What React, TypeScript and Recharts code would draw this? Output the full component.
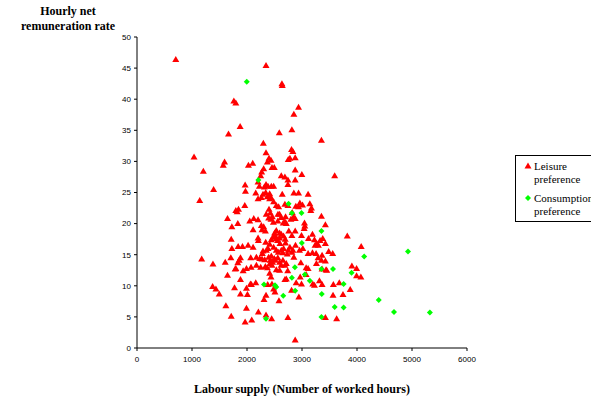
import { ScatterChart, Scatter, XAxis, YAxis } from 'recharts';

const xTicks = [0, 1000, 2000, 3000, 4000, 5000, 6000];
const yTicks = [0, 5, 10, 15, 20, 25, 30, 35, 40, 45, 50];

// Leisure preference (red triangles): worked hours / hourly rate
const leisureHours = [
  705, 2346, 2635, 2641, 1761, 1797, 2937, 2852, 1875, 2816, 1664, 2587, 3353, 2297, 2810, 2834,
  2876, 2346, 1037, 2400, 2436, 2370, 2750, 2780, 1592, 1568, 2026, 2104, 2303, 2267, 2249, 2454,
  2496, 2876, 1206, 3594, 2997, 2623, 2689, 2744, 2744, 2876, 2201, 2225, 1966, 1972, 2346, 2316,
  2382, 2442, 2484, 1393, 2340, 2412, 2291, 2852, 2937, 3111, 2159, 2261, 2201, 2641, 1140, 2370,
  2412, 2436, 2484, 2533, 2575, 3142, 3172, 3160, 2961, 3009, 2937, 2888, 1960, 2689, 2744, 1845,
  1821, 1797, 2424, 2563, 2593, 2822, 2846, 2798, 2876, 1646, 2123, 2050, 2201, 3353, 2394, 2436,
  2460, 2701, 2689, 1725, 1833, 3045, 3051, 3039, 3425, 2261, 2303, 2273, 2334, 2111, 2659, 2714,
  2533, 2502, 2593, 2876, 2816, 3823, 1713, 1725, 2201, 2207, 2442, 2472, 2508, 2533, 2557, 2593,
  2623, 2665, 2695, 2340, 2412, 2382, 2352, 3118, 3190, 3226, 3268, 3298, 3238, 3329, 3377, 3425,
  2991, 2882, 2955, 1839, 1918, 2020, 2111, 2780, 2834, 2750, 2665, 2623, 2653, 4076, 2291, 2279,
  2484, 2533, 2569, 3015, 3111, 3190, 3256, 3365, 3485, 3558, 2732, 2816, 2852, 1176, 1881, 1857,
  2068, 2171, 2231, 2273, 2322, 2394, 2442, 2496, 2424, 2514, 2466, 1381, 1604, 1706, 1833, 1797,
  2074, 2171, 2249, 2334, 2418, 2454, 2370, 2593, 2653, 2714, 2689, 2979, 3262, 3292, 3353, 3425,
  3075, 3111, 3907, 3992, 4070, 3992, 3437, 3449, 3365, 1646, 1785, 1930, 1990, 2533, 2593, 2412,
  2689, 2714, 3075, 2967, 1881, 1375, 1435, 1495, 1773, 1881, 1990, 2008, 2062, 2159, 2080, 2436,
  2454, 2484, 2508, 2376, 2894, 2991, 3196, 3226, 3317, 3365, 3570, 3678, 3877, 2810, 2943, 2346,
  2309, 2581, 3564, 3745, 1616, 1990, 2207, 1713, 2086, 1966, 2346, 2448, 2744, 3425, 3630, 2876,
  2560, 2620, 2400, 2350, 2480, 2600, 2700, 2560, 2620, 2760, 2740,
];
const leisureRate = [
  46.4, 45.4, 42.5, 42.2, 39.7, 39.4, 38.7, 37.6, 35.6, 35.1, 34.4, 34.6, 33.4, 32.9, 31.9, 31.6,
  30.6, 31.4, 30.7, 30.5, 30.2, 29.9, 30.3, 30.5, 29.9, 29.4, 29.4, 29.7, 28.8, 28.3, 27.7, 29.0,
  29.0, 28.6, 28.4, 27.7, 27.9, 27.7, 27.5, 27.0, 26.3, 27.0, 26.7, 26.0, 26.2, 25.2, 26.3, 25.9,
  26.0, 26.0, 26.0, 25.5, 25.0, 24.8, 24.7, 24.9, 24.9, 24.7, 24.9, 24.2, 24.0, 24.7, 23.7, 24.3,
  24.0, 24.2, 23.5, 22.9, 22.7, 23.2, 22.5, 22.1, 23.3, 23.0, 22.7, 22.8, 22.9, 23.1, 22.9, 22.3,
  21.9, 22.1, 21.7, 21.5, 21.5, 21.8, 21.1, 20.7, 20.8, 20.8, 20.8, 20.4, 20.6, 21.2, 20.9, 20.7,
  21.1, 21.1, 20.3, 19.5, 20.0, 20.1, 19.6, 19.2, 19.8, 19.7, 19.5, 19.0, 18.8, 19.0, 20.1, 20.0,
  18.9, 18.5, 18.5, 18.8, 18.1, 18.0, 17.5, 16.0, 17.7, 17.3, 17.4, 17.8, 18.1, 17.6, 17.3, 17.7,
  18.3, 18.0, 17.5, 17.0, 16.7, 16.0, 15.7, 17.6, 18.3, 17.4, 16.8, 16.5, 16.5, 17.3, 17.6, 16.8,
  18.1, 16.5, 15.7, 16.3, 16.3, 16.5, 16.2, 16.2, 15.7, 15.7, 16.0, 15.7, 15.3, 16.3, 15.6, 15.2,
  16.2, 15.7, 15.4, 16.0, 15.2, 15.3, 15.2, 14.9, 15.5, 15.2, 15.1, 15.4, 14.6, 14.3, 14.5, 14.1,
  14.5, 14.6, 14.4, 14.3, 14.2, 14.6, 14.8, 14.4, 14.1, 14.1, 13.8, 13.5, 13.8, 14.5, 13.7, 12.8,
  13.0, 13.3, 13.0, 13.1, 13.6, 13.3, 12.9, 13.8, 14.1, 13.6, 13.3, 13.7, 13.6, 14.5, 14.1, 14.0,
  12.9, 12.8, 13.2, 12.8, 11.4, 11.6, 12.6, 12.5, 12.7, 11.7, 12.7, 12.4, 12.8, 12.6, 12.5, 12.0,
  11.0, 11.1, 11.8, 11.4, 11.0, 9.9, 9.5, 8.7, 9.7, 8.7, 9.6, 8.6, 10.3, 10.5, 10.2, 11.4,
  10.3, 9.5, 9.0, 10.2, 10.5, 10.3, 10.3, 10.1, 10.8, 10.2, 10.2, 10.5, 9.4, 9.3, 8.2, 8.5,
  7.8, 7.6, 8.5, 8.6, 6.8, 6.4, 5.8, 5.1, 4.5, 4.2, 5.3, 4.7, 4.9, 4.9, 4.7, 1.3,
  20.4, 21.0, 22.3, 21.5, 20.2, 16.8, 16.9, 14.5, 13.3, 18.8, 12.4,
];

// Consumption preference (green diamonds)
const consumptionHours = [
  1996, 2207, 2756, 2816, 2991, 3353, 2997, 4927, 4131, 3353, 3564, 2870, 3901, 3051, 2816,
  3142, 3757, 2309, 2509, 2533, 2876, 3359, 2659, 4396, 3594, 3757, 4673, 5325, 3353, 2346,
];
const consumptionRate = [
  42.8, 27.0, 23.2, 21.7, 21.7, 18.8, 16.9, 15.5, 14.7, 12.7, 12.7, 13.0, 12.1, 11.8, 11.3,
  10.8, 10.3, 10.2, 10.1, 9.8, 9.2, 8.7, 8.4, 7.7, 6.6, 6.5, 5.8, 5.7, 5.0, 4.7,
];

const leisure = leisureHours.map((h, i) => ({ hours: h, rate: leisureRate[i] }));
const consumption = consumptionHours.map((h, i) => ({ hours: h, rate: consumptionRate[i] }));

const RED = '#FF0000';
const GREEN = '#00FF00';
const serif = '"Liberation Serif", "Times New Roman", serif';
const sans = '"Liberation Sans", Arial, sans-serif';

function Triangle(props: any) {
  const { cx, cy } = props;
  return (
    <polygon
      points={`${cx},${cy - 3.5} ${cx + 3.5},${cy + 2.5} ${cx - 3.5},${cy + 2.5}`}
      fill={RED}
    />
  );
}

function Diamond(props: any) {
  const { cx, cy } = props;
  return (
    <polygon
      points={`${cx},${cy - 3} ${cx + 3},${cy} ${cx},${cy + 3} ${cx - 3},${cy}`}
      fill={GREEN}
    />
  );
}

// legend box sits half off the right edge, like the original
function LegendBox() {
  const item = { display: 'flex', alignItems: 'flex-start', lineHeight: '13px' };
  return (
    <div
      style={{
        position: 'absolute',
        left: 515,
        top: 155,
        border: '1px solid #000',
        background: '#fff',
        width: 100,
        padding: '4px 0 3px 0',
        fontFamily: serif,
        fontSize: 11,
        color: '#000',
      }}
    >
      <div style={{ ...item, marginBottom: 6 }}>
        <svg width={18} height={12}>
          <polygon points="12,2.5 15.5,8.5 8.5,8.5" fill={RED} />
        </svg>
        <div>
          Leisure
          <br />
          preference
        </div>
      </div>
      <div style={item}>
        <svg width={18} height={12}>
          <polygon points="12,3 15,6 12,9 9,6" fill={GREEN} />
        </svg>
        <div>
          Consumption
          <br />
          preference
        </div>
      </div>
    </div>
  );
}

export default function App() {
  return (
    <div
      style={{
        position: 'absolute',
        left: 0,
        top: 0,
        width: 591,
        height: 400,
        overflow: 'hidden',
        background: '#fff',
      }}
    >
      <div
        style={{
          position: 'absolute',
          left: 8,
          top: 4,
          width: 120,
          textAlign: 'center',
          fontFamily: serif,
          fontWeight: 'bold',
          fontSize: 12,
          lineHeight: '15px',
          color: '#000',
        }}
      >
        Hourly net
        <br />
        remuneration rate
      </div>
      <ScatterChart
        width={591}
        height={400}
        margin={{ top: 37, right: 124, bottom: 0, left: 97 }}
      >
        <XAxis
          type="number"
          dataKey="hours"
          domain={[0, 6000]}
          ticks={xTicks}
          interval={0}
          height={52}
          tickSize={3}
          tickMargin={5}
          stroke="#000"
          tick={{ fill: '#000', fontSize: 8, fontFamily: sans }}
          label={{
            value: 'Labour supply (Number of worked hours)',
            position: 'insideBottom',
            offset: 7,
            style: { fontFamily: serif, fontWeight: 'bold', fontSize: 12, fill: '#000' },
          }}
        />
        <YAxis
          type="number"
          dataKey="rate"
          domain={[0, 50]}
          ticks={yTicks}
          interval={0}
          width={40}
          tickSize={3}
          tickMargin={3}
          stroke="#000"
          tick={{ fill: '#000', fontSize: 8, fontFamily: sans }}
        />
        <Scatter
          name="Leisure preference"
          data={leisure}
          shape={Triangle}
          isAnimationActive={false}
        />
        <Scatter
          name="Consumption preference"
          data={consumption}
          shape={Diamond}
          isAnimationActive={false}
        />
      </ScatterChart>
      <LegendBox />
    </div>
  );
}
